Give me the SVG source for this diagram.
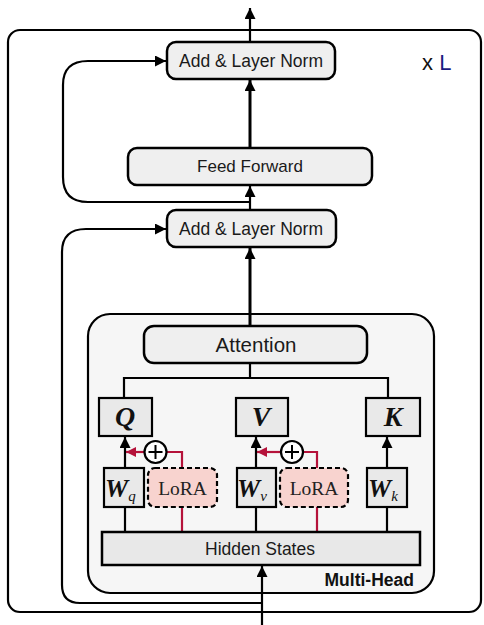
<svg xmlns="http://www.w3.org/2000/svg" width="484" height="625" viewBox="0 0 484 625">
<defs>
<style>
.box{fill:#efefef;stroke:#000;stroke-width:2.5}
.wbox{fill:#e9e9e9;stroke:#000;stroke-width:2.2}
.lora{fill:#f8d3cf;stroke:#000;stroke-width:2.2;stroke-dasharray:5 3}
.lbl{font-family:"Liberation Sans",Arial,sans-serif;fill:#1a1a1a;text-anchor:middle}
.math{font-family:"Liberation Serif","Times New Roman",serif;font-style:italic;font-weight:bold;fill:#111}
.ln{fill:none;stroke:#000;stroke-width:2.2}
.thick{fill:none;stroke:#000;stroke-width:3}
.red{fill:none;stroke:#b5123a;stroke-width:2.2}
</style>
<marker id="ah" viewBox="0 0 10 10" refX="10" refY="5" markerWidth="11" markerHeight="11" markerUnits="userSpaceOnUse" orient="auto">
<path d="M0,0 L10,5 L0,10 z" fill="#000"/>
</marker>
<marker id="ahr" viewBox="0 0 10 10" refX="10" refY="5" markerWidth="10" markerHeight="10" markerUnits="userSpaceOnUse" orient="auto">
<path d="M0,0 L10,5 L0,10 z" fill="#b5123a"/>
</marker>
</defs>

<rect id="outer" x="8" y="30" width="473" height="582" rx="12" fill="#fff" stroke="#000" stroke-width="2.2"/>
<text x="422" y="70" font-family="'Liberation Sans',Arial,sans-serif" font-size="22"><tspan fill="#111">x </tspan><tspan fill="#1a1a80">L</tspan></text>

<g id="multihead">
<rect x="88" y="314" width="346" height="279" rx="22" fill="#f6f6f6" stroke="#000" stroke-width="2.2"/>
<text x="414" y="586" font-family="'Liberation Sans',Arial,sans-serif" font-size="17.5" font-weight="bold" text-anchor="end" fill="#111">Multi-Head</text>
</g>

<g id="connectors">
<line class="ln" x1="250" y1="42" x2="250" y2="8" marker-end="url(#ah)"/>
<line class="thick" x1="250" y1="148" x2="250" y2="80" marker-end="url(#ah)"/>
<line class="ln" x1="250" y1="210" x2="250" y2="186" marker-end="url(#ah)"/>
<path class="ln" d="M250,202 L88,202 Q63,202 63,177 L63,85 Q63,61 88,61 L166,61" marker-end="url(#ah)"/>
<path class="ln" d="M262,603 L80,603 Q62,603 62,585 L62,252 Q62,229 86,229 L166,229" marker-end="url(#ah)"/>
<line class="ln" x1="262" y1="625" x2="262" y2="566" marker-end="url(#ah)"/>
<line class="thick" x1="250" y1="326" x2="250" y2="248" marker-end="url(#ah)"/>
<path class="ln" d="M250,363 L250,378 M124,398 L124,378 L388,378 L388,398"/>
<line class="ln" x1="125" y1="532" x2="125" y2="507"/>
<line class="ln" x1="256" y1="532" x2="256" y2="507"/>
<line class="ln" x1="387" y1="532" x2="387" y2="507"/>
<line class="ln" x1="125" y1="468" x2="125" y2="437" marker-end="url(#ah)"/>
<line class="ln" x1="256" y1="468" x2="256" y2="437" marker-end="url(#ah)"/>
<line class="ln" x1="387" y1="468" x2="387" y2="437" marker-end="url(#ah)"/>
<line class="red" x1="182" y1="532" x2="182" y2="507"/>
<line class="red" x1="317" y1="532" x2="317" y2="507"/>
<path class="red" d="M182,468 L182,452 L167,452"/>
<path class="red" d="M317,468 L317,452 L303,452"/>
<line class="red" x1="144" y1="452" x2="126" y2="452" marker-end="url(#ahr)"/>
<line class="red" x1="280" y1="452" x2="257" y2="452" marker-end="url(#ahr)"/>
</g>

<g id="addnorm1">
<rect class="box" x="167" y="42" width="168" height="37" rx="9"/>
<text class="lbl" x="251" y="67" font-size="17.5">Add &amp; Layer Norm</text>
</g>
<g id="feedforward">
<rect class="box" x="128" y="148" width="244" height="37" rx="9"/>
<text class="lbl" x="250" y="172" font-size="17">Feed Forward</text>
</g>
<g id="addnorm2">
<rect class="box" x="167" y="210" width="169" height="37" rx="9"/>
<text class="lbl" x="251" y="235" font-size="17.5">Add &amp; Layer Norm</text>
</g>
<g id="attention">
<rect class="box" x="144" y="326" width="223" height="37" rx="10" fill="#ececec"/>
<text class="lbl" x="256" y="352" font-size="20.5">Attention</text>
</g>
<g id="Q">
<rect class="wbox" x="99" y="398" width="53" height="38"/>
<text class="math" x="125" y="426" font-size="28" text-anchor="middle">Q</text>
</g>
<g id="V">
<rect class="wbox" x="236" y="398" width="52" height="38"/>
<text class="math" x="261" y="426" font-size="28" text-anchor="middle">V</text>
</g>
<g id="K">
<rect class="wbox" x="366" y="398" width="54" height="38"/>
<text class="math" x="393" y="426" font-size="28" text-anchor="middle">K</text>
</g>
<g id="Wq">
<rect class="wbox" x="104" y="468" width="40" height="39"/>
<text x="105" y="497" font-family="'Liberation Serif',serif" font-style="italic" fill="#111"><tspan font-weight="bold" font-size="26">W</tspan><tspan font-size="15" dy="4">q</tspan></text>
</g>
<g id="Wv">
<rect class="wbox" x="237" y="468" width="39" height="39"/>
<text x="237" y="497" font-family="'Liberation Serif',serif" font-style="italic" fill="#111"><tspan font-weight="bold" font-size="26">W</tspan><tspan font-size="15" dy="4">v</tspan></text>
</g>
<g id="Wk">
<rect class="wbox" x="367" y="468" width="40" height="39"/>
<text x="368" y="497" font-family="'Liberation Serif',serif" font-style="italic" fill="#111"><tspan font-weight="bold" font-size="26">W</tspan><tspan font-size="15" dy="4">k</tspan></text>
</g>
<g id="lora1">
<rect class="lora" x="148" y="468" width="69" height="39" rx="7"/>
<text x="182.5" y="495" font-family="'Liberation Serif',serif" font-size="19.5" text-anchor="middle" fill="#222">LoRA</text>
</g>
<g id="lora2">
<rect class="lora" x="280" y="468" width="68" height="39" rx="7"/>
<text x="314" y="495" font-family="'Liberation Serif',serif" font-size="19.5" text-anchor="middle" fill="#222">LoRA</text>
</g>
<g id="plus1">
<circle cx="155.5" cy="452" r="11" fill="#fff" stroke="#000" stroke-width="2.2"/>
<path d="M148.5,452 H162.5 M155.5,445 V459" stroke="#000" stroke-width="2"/>
</g>
<g id="plus2">
<circle cx="292" cy="452" r="11" fill="#fff" stroke="#000" stroke-width="2.2"/>
<path d="M285,452 H299 M292,445 V459" stroke="#000" stroke-width="2"/>
</g>
<g id="hidden">
<rect x="102" y="532" width="318" height="33" fill="#e8e8e8" stroke="#000" stroke-width="2.5"/>
<text class="lbl" x="260" y="555" font-size="17.5">Hidden States</text>
</g>
</svg>
